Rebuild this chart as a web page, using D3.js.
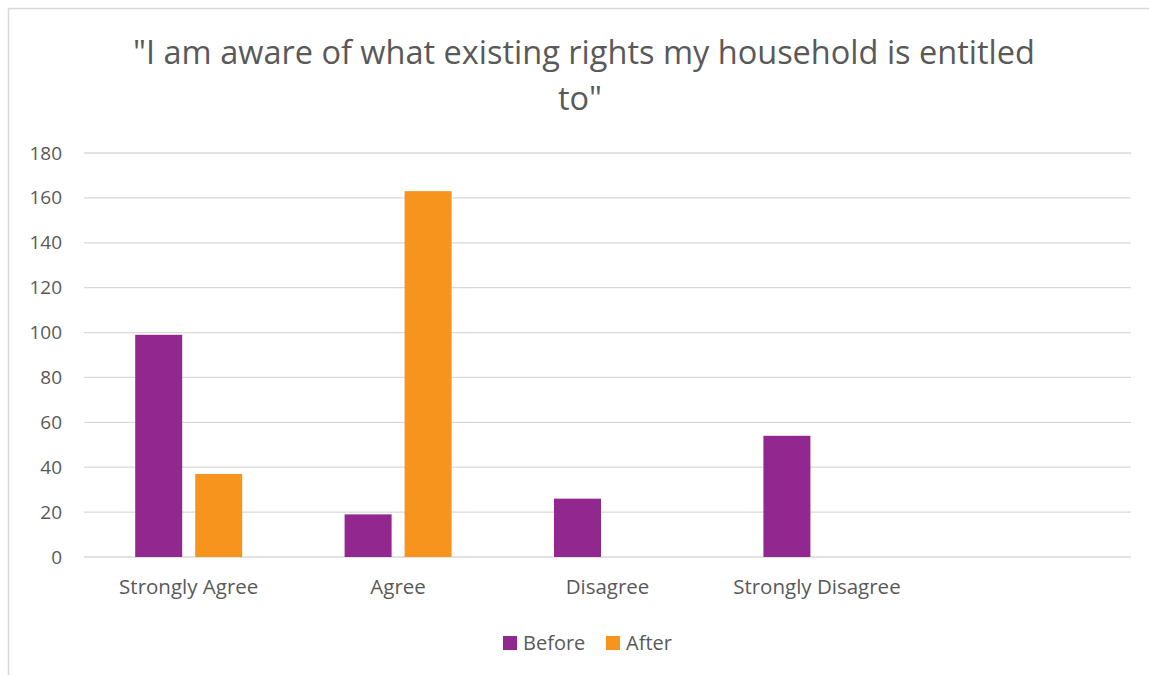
<!DOCTYPE html>
<html>
<head>
<meta charset="utf-8">
<script src="https://cdn.jsdelivr.net/npm/d3@7"></script>
<style>
  body { margin: 0; background: #fff; }
  text { font-family: "Open Sans", "Noto Sans", sans-serif; fill: #595959; }
</style>
</head>
<body>
<div id="chart"></div>
<script>
// data
const titleLines = ['"I am aware of what existing rights my household is entitled', 'to"'];
const categories = ["Strongly Agree", "Agree", "Disagree", "Strongly Disagree", ""];
const seriesNames = ["Before", "After"];
const beforeValues = [99, 19, 26, 54, null];
const afterValues = [37, 163, 0, 0, null];
const yTicks = [0, 20, 40, 60, 80, 100, 120, 140, 160, 180];
const colors = ["#92278F", "#F7941D"];

const W = 1149, H = 675;
const margin = {top: 153, right: 18, bottom: 118, left: 84};
const width = W - margin.left - margin.right,
      height = H - margin.top - margin.bottom;

const svg = d3.select("#chart").append("svg")
    .attr("width", W).attr("height", H);

// chart border (only top + left visible)
svg.append("rect")
    .attr("x", 8.5).attr("y", 8.5)
    .attr("width", W + 10).attr("height", H + 10)
    .attr("fill", "none").attr("stroke", "#d9d9d9").attr("stroke-width", 1.5);

// title, two lines, first line fitted to the original width
const title = svg.append("g");
titleLines.forEach((t, i) => {
    title.append("text")
        .attr("x", i === 0 ? 584 : 580)
        .attr("y", 64 + i * 46)
        .attr("text-anchor", "middle")
        .style("font-size", "31px")
        .text(t);
});
const first = title.select("text").node();
const wantW = 902;
const fs = 31 * wantW / first.getComputedTextLength();
title.selectAll("text").style("font-size", fs + "px");

const g = svg.append("g")
    .attr("transform", `translate(${margin.left},${margin.top})`);

const x0 = d3.scaleBand().domain(d3.range(categories.length)).range([0, width]);
const x1 = d3.scaleBand().domain(seriesNames)
    .range([x0.bandwidth() / 2 - 53.5, x0.bandwidth() / 2 + 53.5])
    .paddingInner(13 / 60);
const y = d3.scaleLinear().domain([0, 180]).range([height, 0]);

// gridlines
g.append("g")
    .selectAll("line")
    .data(yTicks)
    .join("line")
    .attr("x1", 0).attr("x2", width)
    .attr("y1", d => y(d)).attr("y2", d => y(d))
    .attr("stroke", "#d9d9d9").attr("stroke-width", 1.3);

// y axis labels
const yAxis = g.append("g")
    .call(d3.axisLeft(y).tickValues(yTicks).tickSize(0).tickPadding(22));
yAxis.select(".domain").remove();
yAxis.selectAll("text")
    .style("font-size", "19px")
    .attr("fill", "#595959");

// bars
const series = [beforeValues, afterValues];
const groups = g.append("g")
    .selectAll("g")
    .data(categories.map((c, i) => ({i, vals: series.map((s, k) => ({name: seriesNames[k], v: s[i]}))})))
    .join("g")
    .attr("transform", d => `translate(${x0(d.i)},0)`);

groups.selectAll("rect")
    .data(d => d.vals.filter(o => o.v))
    .join("rect")
    .attr("x", d => x1(d.name))
    .attr("width", x1.bandwidth())
    .attr("y", d => y(d.v))
    .attr("height", d => height - y(d.v))
    .attr("fill", d => colors[seriesNames.indexOf(d.name)]);

// category labels
const xAxis = g.append("g")
    .attr("transform", `translate(0,${height})`)
    .call(d3.axisBottom(x0).tickSize(0).tickPadding(22).tickFormat(i => categories[i]));
xAxis.select(".domain").remove();
xAxis.selectAll("text")
    .style("font-size", "20.5px")
    .attr("fill", "#595959");

// legend
const legend = svg.append("g").attr("transform", "translate(503,636)");
const items = [{name: "Before", x: 0}, {name: "After", x: 103}];
items.forEach((it, k) => {
    legend.append("rect")
        .attr("x", it.x).attr("y", 0)
        .attr("width", 14).attr("height", 14)
        .attr("fill", colors[k]);
    legend.append("text")
        .attr("x", it.x + 20).attr("y", 14)
        .style("font-size", "20px")
        .text(it.name);
});
</script>
</body>
</html>
